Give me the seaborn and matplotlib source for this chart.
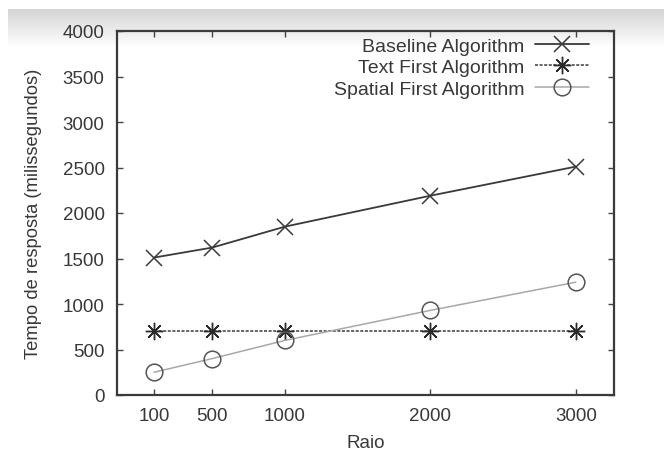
import numpy as np
import pandas as pd
import matplotlib
matplotlib.use("Agg")
import matplotlib.pyplot as plt
import seaborn as sns

raio = [100, 500, 1000, 2000, 3000]
baseline = [1510, 1620, 1850, 2190, 2510]
text_first = [700, 700, 700, 700, 700]
spatial_first = [250, 400, 600, 930, 1240]
series_names = ["Baseline Algorithm", "Text First Algorithm", "Spatial First Algorithm"]
y_ticks = [0, 500, 1000, 1500, 2000, 2500, 3000, 3500, 4000]

sns.set_style("ticks")
plt.rcParams["font.family"] = ["Liberation Sans", "DejaVu Sans"]

fig = plt.figure(figsize=(6.64, 4.52), dpi=100)

# screenshot-like gray gradient band at the top
bg = fig.add_axes([8 / 664, 1 - 48 / 452, 1 - 8 / 664, 38 / 452], zorder=-10)
grad = np.linspace(0.83, 1.0, 100).reshape(-1, 1)
bg.imshow(np.dstack([grad, grad, grad]), aspect="auto", extent=[0, 1, 0, 1])
bg.axis("off")

ax = fig.add_axes([117 / 664, 1 - 396 / 452, 497 / 664, 364 / 452])
ax.patch.set_alpha(0)

df = pd.DataFrame({"Raio": raio, "b": baseline, "t": text_first, "s": spatial_first})

text_col = "#383838"
sns.lineplot(data=df, x="Raio", y="b", ax=ax, color="#3a3a3a", lw=1.3,
             marker="x", markersize=11.5, markeredgewidth=1.1, markeredgecolor="#3a3a3a",
             label=series_names[0])
sns.lineplot(data=df, x="Raio", y="t", ax=ax, color="#3a3a3a", lw=1.1,
             dashes=(2, 1), marker=(8, 2, 0), markersize=12.5, markeredgewidth=1.0,
             markeredgecolor="#2a2a2a", label=series_names[1])
sns.lineplot(data=df, x="Raio", y="s", ax=ax, color="#a8a8a8", lw=1.1,
             marker="o", markersize=12, markerfacecolor="none", markeredgewidth=1.1,
             markeredgecolor="#555555", label=series_names[2])

ax.set_xlim(-154, 3262)
ax.set_ylim(0, 4000)
ax.set_xticks(raio)
ax.set_xticklabels([str(r) for r in raio])
ax.set_yticks(y_ticks)
ax.set_yticklabels([str(v) for v in y_ticks])
ax.tick_params(direction="in", length=4, width=1, top=True, right=True,
               labelsize=13.5, colors="#444444", labelcolor=text_col, pad=9)
for s in ax.spines.values():
    s.set_linewidth(1.6)
    s.set_color("#3a3a3a")
ax.set_xlabel("Raio", fontsize=13.5, color=text_col, labelpad=7)
ax.set_ylabel("Tempo de resposta (milissegundos)", fontsize=13.2, color=text_col, labelpad=15)

leg = ax.legend(loc="upper right", bbox_to_anchor=(0.95, 0.983), frameon=False,
                markerfirst=False, fontsize=14, handlelength=2.8, handletextpad=0.55,
                labelspacing=0.2, borderaxespad=0, borderpad=0)
for col in leg._legend_handle_box.get_children():
    col.align = "right"
for t in leg.get_texts():
    t.set_color(text_col)

fig.savefig("out.png", dpi=100)
